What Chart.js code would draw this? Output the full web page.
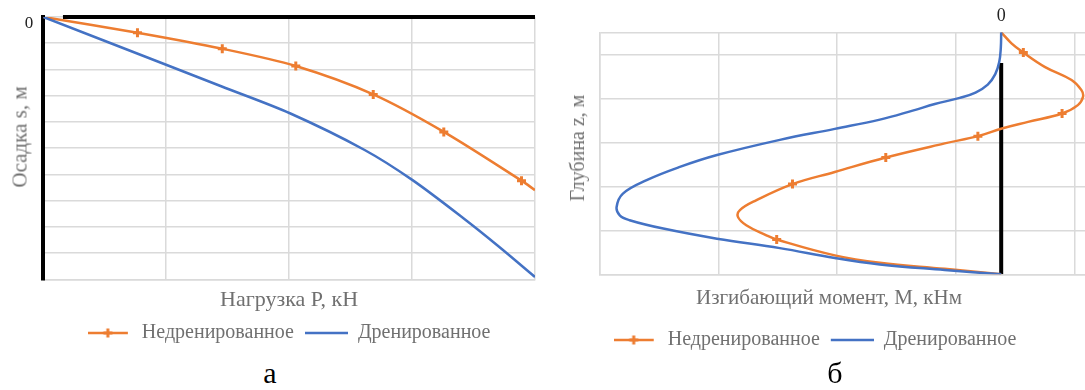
<!DOCTYPE html>
<html>
<head>
<meta charset="utf-8">
<script src="https://cdn.jsdelivr.net/npm/chart.js@4.4.1/dist/chart.umd.min.js"></script>
<style>
  html, body { margin: 0; padding: 0; background: #fff; }
  body { width: 1085px; height: 390px; position: relative; overflow: hidden;
         font-family: 'Liberation Serif', 'Times New Roman', serif; }
  canvas { position: absolute; top: 0; }
  #chartA { left: 0; }
  #chartB { left: 545px; }
  .axis-title { position: absolute; font-size: 21px; line-height: 21px; color: #707070;
                white-space: nowrap; transform: translateX(-50%); }
  .axis-title.vertical { transform: translate(-50%, -50%) rotate(-90deg); }
  .caption { position: absolute; font-size: 30px; line-height: 30px; color: #000;
             transform: translateX(-50%); }
</style>
</head>
<body>
<canvas id="chartA" width="545" height="353"></canvas>
<canvas id="chartB" width="540" height="360"></canvas>
<div class="axis-title vertical" style="left:19.6px; top:137px;">Осадка s, м</div>
<div class="axis-title vertical" style="left:577px; top:148px; font-size:20px; line-height:20px;">Глубина z, м</div>
<div class="axis-title" style="left:829px; top:287px;">Изгибающий момент, М, кНм</div>
<div class="caption" style="left:270px; top:358px;">а</div>
<div class="caption" style="left:835px; top:358px;">б</div>

<script>
// ---------- (а) settlement s against load P ----------
const loadGrid = [0, 500, 1000, 1500, 2000];                     // kN
const settleGrid = [0, 0.01, 0.02, 0.03, 0.04, 0.05, 0.06, 0.07, 0.08, 0.09, 0.10]; // m

const loadUndrained   = [0, 383, 728, 1027, 1342, 1629, 1945, 2000];
const settleUndrained = [0, 0.0060, 0.0121, 0.0187, 0.0295, 0.0438, 0.0624, 0.0660];
const loadUndrainedPts   = [383, 728, 1027, 1342, 1629, 1945];
const settleUndrainedPts = [0.0060, 0.0121, 0.0187, 0.0295, 0.0438, 0.0624];

const loadDrained   = [0, 502, 726, 1003, 1307, 1502, 1714, 1850, 2000];
const settleDrained = [0, 0.0183, 0.0265, 0.0367, 0.0507, 0.0622, 0.0771, 0.0873, 0.0991];

// ---------- (б) bending moment M along depth z ----------
const momentGrid = [-1015, -715, -415, -115, 185];               // kN·m
const depthGrid  = [-11, -9, -7, -5, -3, -1, 0];                 // m

const momentDrained = [0, -1, -5, -15, -34, -65, -105, -168, -224, -307, -421, -560, -719, -813,
                       -897, -957, -973, -965, -940, -855, -719, -560, -421, -307, -143, 0];
const depthDrained  = [0, -0.71, -1.35, -1.90, -2.38, -2.74, -2.98, -3.26, -3.56, -3.97, -4.39,
                       -4.89, -5.58, -6.12, -6.72, -7.33, -7.94, -8.32, -8.54, -8.92, -9.38,
                       -9.81, -10.26, -10.55, -10.80, -11];

const momentUndrained = [0, 26, 56, 110, 178, 203, 207, 194, 154, 68, 2, -59, -143, -292, -421,
                         -528, -619, -661, -666, -645, -594, -568, -421, -307, -143, 0];
const depthUndrained  = [0, -0.50, -0.92, -1.57, -2.17, -2.63, -2.93, -3.31, -3.69, -4.07, -4.37,
                         -4.72, -5.05, -5.69, -6.35, -6.90, -7.63, -8.08, -8.39, -8.77, -9.23,
                         -9.42, -10.14, -10.48, -10.75, -11];
const momentUndrainedPts = [56, 154, -59, -292, -528, -568];
const depthUndrainedPts  = [-0.92, -3.69, -4.72, -5.69, -6.90, -9.42];

// pile shaft drawn along the zero-moment line
const pileMoment = [0, 0];
const pileDepth  = [-1.4, -11];

const seriesNames = ['Недренированное', 'Дренированное'];

// ---------- shared styling ----------
const ORANGE = '#ED7D31';
const BLUE = '#4472C4';
const GRID = '#dadada';
const TEXT_GREY = '#707070';
const SERIF = "'Liberation Serif', 'Times New Roman', serif";

const pts = (xs, ys) => xs.map((x, i) => ({ x, y: ys[i] }));

// small legend swatches: a line, the orange one with its "+" marker
function swatch(color, withMarker, x0, x1) {
  const c = document.createElement('canvas');
  c.width = 44; c.height = 12;
  const g = c.getContext('2d');
  g.strokeStyle = color; g.lineWidth = 2.5;
  g.beginPath(); g.moveTo(x0, 6); g.lineTo(x1, 6); g.stroke();
  if (withMarker) {
    const cx = (x0 + x1) / 2;
    g.lineWidth = 3;
    g.beginPath(); g.moveTo(cx - 4.5, 6); g.lineTo(cx + 4.5, 6);
    g.moveTo(cx, 1.5); g.lineTo(cx, 10.5); g.stroke();
  }
  return c;
}
const swatchUndrained = swatch(ORANGE, true, 0, 40);
const swatchDrained = swatch(BLUE, false, 1, 44);

const legendOptions = (fullSize) => ({
  position: 'bottom',
  fullSize,
  labels: {
    usePointStyle: true,
    pointStyleWidth: 44,
    padding: 10,
    color: TEXT_GREY,
    font: { family: SERIF, size: 20 },
    generateLabels: () => [
      { text: seriesNames[0], pointStyle: swatchUndrained, fontColor: TEXT_GREY,
        lineWidth: 0, strokeStyle: 'rgba(0,0,0,0)', fillStyle: 'rgba(0,0,0,0)', hidden: false },
      { text: seriesNames[1], pointStyle: swatchDrained, fontColor: TEXT_GREY,
        lineWidth: 0, strokeStyle: 'rgba(0,0,0,0)', fillStyle: 'rgba(0,0,0,0)', hidden: false }
    ]
  }
});

const fixedTicks = (values) => (scale) => { scale.ticks = values.map(v => ({ value: v })); };

// thick black rule along the zero-settlement line
const topRule = {
  id: 'topRule',
  beforeDatasetsDraw(chart, args, opts) {
    const { ctx, scales: { x, y } } = chart;
    const yp = y.getPixelForValue(0);
    ctx.save();
    ctx.strokeStyle = opts.color;
    ctx.lineWidth = opts.width;
    ctx.beginPath();
    ctx.moveTo(x.getPixelForValue(opts.from), yp);
    ctx.lineTo(x.getPixelForValue(opts.to), yp);
    ctx.stroke();
    ctx.restore();
  }
};

// ---------- chart (а) ----------
new Chart(document.getElementById('chartA'), {
  type: 'scatter',
  data: {
    datasets: [
      { label: seriesNames[1], data: pts(loadDrained, settleDrained), showLine: true,
        borderColor: BLUE, borderWidth: 2.5, pointRadius: 0, tension: 0.3, order: 0 },
      { label: seriesNames[0], data: pts(loadUndrained, settleUndrained), showLine: true,
        borderColor: ORANGE, borderWidth: 2.5, pointRadius: 0, tension: 0.3, order: 2 },
      { label: seriesNames[0], data: pts(loadUndrainedPts, settleUndrainedPts), showLine: false,
        pointStyle: 'cross', pointRadius: 4.5, pointBorderWidth: 3, borderColor: ORANGE,
        backgroundColor: ORANGE, order: 1 }
    ]
  },
  options: {
    responsive: false,
    animation: false,
    layout: { autoPadding: false, padding: { left: 0, right: 10, top: 17, bottom: 0 } },
    plugins: {
      legend: legendOptions(false),
      tooltip: { enabled: false },
      topRule: { from: 80, to: 2000, width: 4, color: '#000' }
    },
    scales: {
      x: {
        type: 'linear', position: 'bottom', min: 0, max: 2000,
        afterBuildTicks: fixedTicks(loadGrid),
        afterFit: (s) => { s.height = 33.7; },
        grid: { color: GRID, lineWidth: 1.5, drawTicks: false },
        border: { display: true, color: GRID, width: 1.5 },
        ticks: { display: false },
        title: { display: true, text: 'Нагрузка P, кН', color: TEXT_GREY,
                 font: { family: SERIF, size: 22 }, padding: { top: -10, bottom: 0 } }
      },
      y: {
        type: 'linear', position: 'left', reverse: true, min: 0, max: 0.1,
        afterBuildTicks: fixedTicks(settleGrid),
        afterFit: (s) => { s.width = 43.3; s.paddingTop = 0; s.paddingBottom = 0; },
        grid: { color: GRID, lineWidth: 1.5, drawTicks: false },
        border: { display: true, color: '#000', width: 4 },
        ticks: { color: '#222', font: { family: SERIF, size: 17 }, padding: 10, labelOffset: 7,
                 callback: (v) => (v === 0 ? '0' : '') }
      }
    }
  },
  plugins: [topRule]
});

// ---------- chart (б) ----------
new Chart(document.getElementById('chartB'), {
  type: 'scatter',
  data: {
    datasets: [
      { label: seriesNames[1], data: pts(momentDrained, depthDrained), showLine: true,
        borderColor: BLUE, borderWidth: 2.5, pointRadius: 0, tension: 0.4, order: 0 },
      { label: seriesNames[0], data: pts(momentUndrainedPts, depthUndrainedPts), showLine: false,
        pointStyle: 'cross', pointRadius: 4.5, pointBorderWidth: 3, borderColor: ORANGE,
        backgroundColor: ORANGE, order: 1 },
      { label: seriesNames[0], data: pts(momentUndrained, depthUndrained), showLine: true,
        borderColor: ORANGE, borderWidth: 2.5, pointRadius: 0, tension: 0.4, order: 2 },
      { label: 'pile', data: pts(pileMoment, pileDepth), showLine: true,
        borderColor: '#000', borderWidth: 4, pointRadius: 0, order: 3 }
    ]
  },
  options: {
    responsive: false,
    animation: false,
    layout: { autoPadding: false, padding: { left: 0, right: 0, top: 0, bottom: 0 } },
    plugins: {
      legend: legendOptions(true),
      tooltip: { enabled: false }
    },
    scales: {
      x: {
        type: 'linear', position: 'bottom', min: -1015, max: 212,
        afterBuildTicks: fixedTicks(momentGrid),
        afterFit: (s) => { s.height = 45.7; },
        grid: { color: GRID, lineWidth: 1.5, drawTicks: false },
        border: { display: true, color: GRID, width: 1.5 },
        ticks: { display: false }
      },
      x2: {
        type: 'linear', position: 'top', min: -1015, max: 212,
        afterBuildTicks: fixedTicks([0]),
        afterFit: (s) => { s.height = 32.3; s.paddingLeft = 0; s.paddingRight = 0; },
        grid: { display: false, drawTicks: false },
        border: { display: false },
        ticks: { color: '#222', font: { family: SERIF, size: 18 }, padding: 5,
                 callback: (v) => String(v) }
      },
      y: {
        type: 'linear', position: 'left', min: -11, max: 0,
        afterBuildTicks: fixedTicks(depthGrid),
        afterFit: (s) => { s.width = 55; },
        grid: { color: GRID, lineWidth: 1.5, drawTicks: false },
        border: { display: true, color: GRID, width: 1.5 },
        ticks: { display: false }
      }
    }
  }
});
</script>
</body>
</html>
